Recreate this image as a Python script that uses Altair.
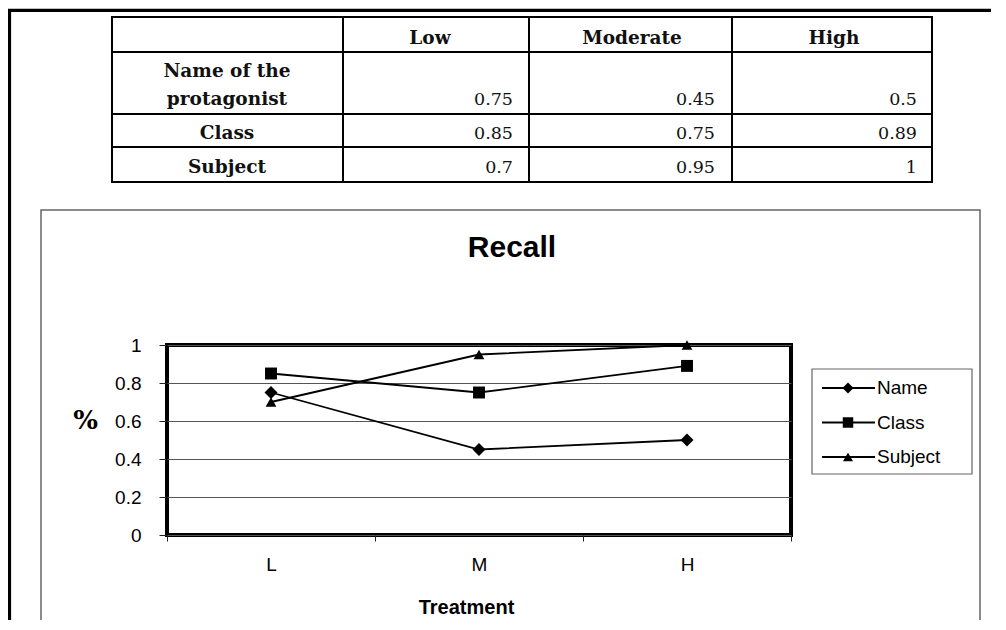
import altair as alt
import pandas as pd

# ---------------- data ----------------
treatments = ["L", "M", "H"]
levels = ["Low", "Moderate", "High"]
series = ["Name", "Class", "Subject"]
row_top = ["Name of the", "", ""]
row_bottom = ["protagonist", "Class", "Subject"]
name_vals = [0.75, 0.45, 0.5]
class_vals = [0.85, 0.75, 0.89]
subject_vals = [0.7, 0.95, 1]
y_ticks = [0, 0.2, 0.4, 0.6, 0.8, 1]

all_vals = [name_vals, class_vals, subject_vals]

line_df = pd.DataFrame(
    [{"series": s, "treatment": t, "value": v}
     for s, vals in zip(series, all_vals) for t, v in zip(treatments, vals)]
)
table_df = pd.DataFrame(
    [{"row": s, "level": l, "value": v}
     for s, vals in zip(series, all_vals) for l, v in zip(levels, vals)]
)
label_df = pd.DataFrame({"row": series, "top": row_top, "bottom": row_bottom})
header_df = pd.DataFrame({"level": levels})
legend_df = pd.DataFrame({"series": series})

SANS = "Liberation Sans"
SERIF = "DejaVu Serif"
W, H = 624, 190
one = alt.Data(values=[{}])

shape_scale = alt.Scale(domain=series, range=["diamond", "square", "triangle-up"])
size_scale = alt.Scale(domain=series, range=[170, 115, 190])
leg_size_scale = alt.Scale(domain=series, range=[120, 100, 150])

# ---------------- decorations (page frame, chart box, title) ----------------
def hrule(x1, x2, y, color="black", w=2.0):
    return alt.Chart(one).mark_rule(color=color, strokeWidth=w).encode(
        x=alt.value(x1), x2=alt.value(x2), y=alt.value(y))

def vrule(x, y1, y2, color="black", w=2.0):
    return alt.Chart(one).mark_rule(color=color, strokeWidth=w).encode(
        x=alt.value(x), y=alt.value(y1), y2=alt.value(y2))

deco = [
    hrule(-160, 840, -334.7, w=3.2),
    vrule(-157.5, -336, 400, w=3.2),
    alt.Chart(one).mark_rect(fill=None, stroke="#666", strokeWidth=1.5).encode(
        x=alt.value(-126), x2=alt.value(813), y=alt.value(-135), y2=alt.value(400)),
    alt.Chart(one).mark_text(font=SANS, fontSize=30, fontWeight="bold", align="center",
                             baseline="alphabetic", color="black").encode(
        x=alt.value(345), y=alt.value(-88), text=alt.value("Recall")),
]

# table grid
tx = [-55, 176, 362, 565, 765]
ty = [-328, -293, -231, -198, -163]
grid = [hrule(tx[0] - 1, tx[-1] + 1, y) for y in ty] + [vrule(x, ty[0] - 1, ty[-1] + 1) for x in tx]

# ---------------- table text ----------------
tbl_x = alt.X("level:N", scale=alt.Scale(type="point", domain=levels, range=[346, 750], padding=0),
              axis=None)
tbl_y = alt.Y("row:N", scale=alt.Scale(type="point", domain=series, range=[-240, -172], padding=0),
              axis=None)

values_text = alt.Chart(table_df).mark_text(
    font=SERIF, fontSize=17.5, align="right", baseline="alphabetic", color="#111"
).encode(x=tbl_x, y=tbl_y, text=alt.Text("value:Q", format="~g"))

header_text = alt.Chart(header_df).mark_text(
    font=SERIF, fontSize=18.5, fontWeight="bold", align="center", baseline="alphabetic",
    color="#111", dx=-83
).encode(x=tbl_x, y=alt.value(-301), text="level:N")

label_bottom = alt.Chart(label_df).mark_text(
    font=SERIF, fontSize=18.5, fontWeight="bold", align="center", baseline="alphabetic", color="#111"
).encode(x=alt.value(60), y=tbl_y, text="bottom:N")

label_top = alt.Chart(label_df).mark_text(
    font=SERIF, fontSize=18.5, fontWeight="bold", align="center", baseline="alphabetic",
    color="#111", dy=-28
).encode(x=alt.value(60), y=tbl_y, text="top:N")

table = alt.layer(*grid, values_text, header_text, label_bottom, label_top)

# ---------------- main line chart ----------------
x_enc = alt.X(
    "treatment:N", sort=treatments, bandPosition=0.5,
    scale=alt.Scale(type="band", domain=treatments, paddingInner=0, paddingOuter=0),
    axis=alt.Axis(
        title="Treatment", tickBand="extent", labelAngle=0, domain=False, grid=False,
        tickSize=6, tickColor="#222", tickWidth=1,
        labelFont=SANS, labelFontSize=19, labelColor="black", labelPadding=14,
        titleFont=SANS, titleFontSize=20, titleFontWeight="bold", titleColor="black",
        titleX=299, titleY=78, titleAlign="center", titleBaseline="alphabetic",
    ),
)
y_enc = alt.Y(
    "value:Q",
    scale=alt.Scale(domain=[0, 1], nice=False, zero=True),
    axis=alt.Axis(
        values=y_ticks, format="~g", domain=False, grid=True, gridColor="#555", gridWidth=1,
        tickSize=8, tickColor="#222", tickWidth=1,
        labelFont=SANS, labelFontSize=19, labelColor="black", labelPadding=18,
        title="%", titleAngle=0, titleX=-82, titleY=83, titleAlign="center",
        titleBaseline="alphabetic", titleFont=SERIF, titleFontSize=26,
        titleFontWeight="bold", titleColor="black",
    ),
)

lines = alt.Chart(line_df).mark_line(color="black", strokeWidth=1.8).encode(
    x=x_enc, y=y_enc, detail="series:N")
points = alt.Chart(line_df).mark_point(filled=True, color="black", opacity=1).encode(
    x=x_enc, y=y_enc,
    shape=alt.Shape("series:N", scale=shape_scale, legend=None),
    size=alt.Size("series:N", scale=size_scale, legend=None),
)
main = alt.layer(lines, points)

# ---------------- manual legend ----------------
leg_y = alt.Y("series:N", scale=alt.Scale(type="point", domain=series, range=[43, 112], padding=0),
              axis=None)
leg_box = alt.Chart(one).mark_rect(fill="white", stroke="#666", strokeWidth=1.2).encode(
    x=alt.value(645), x2=alt.value(805), y=alt.value(24), y2=alt.value(129))
leg_rule = alt.Chart(legend_df).mark_rule(color="black", strokeWidth=1.8).encode(
    x=alt.value(655), x2=alt.value(708), y=leg_y)
leg_pt = alt.Chart(legend_df).mark_point(filled=True, color="black", opacity=1).encode(
    x=alt.value(681), y=leg_y,
    shape=alt.Shape("series:N", scale=shape_scale, legend=None),
    size=alt.Size("series:N", scale=leg_size_scale, legend=None),
)
leg_txt = alt.Chart(legend_df).mark_text(
    font=SANS, fontSize=19, align="left", baseline="middle", color="black"
).encode(x=alt.value(710), y=leg_y, text="series:N")
legend = alt.layer(leg_rule, leg_pt, leg_txt)

chart = alt.layer(
    *deco, table, main, leg_box, legend
).resolve_scale(
    x="independent", y="independent", size="independent"
).properties(
    width=W, height=H,
    padding={"left": 159, "top": 337, "right": 200, "bottom": 85},
    autosize=alt.AutoSizeParams(type="none"),
    background="white",
).configure_view(
    stroke="black", strokeWidth=4
)

chart.save("out.html", embed_options={"renderer": "svg", "actions": False})
